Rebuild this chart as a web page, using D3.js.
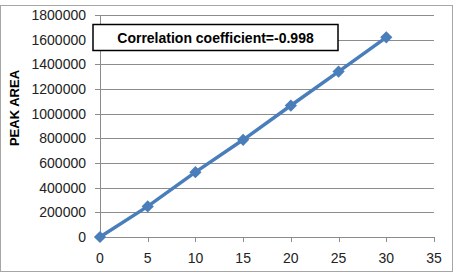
<!DOCTYPE html>
<html>
<head>
<meta charset="utf-8">
<script src="https://cdn.jsdelivr.net/npm/d3@7"></script>
<style>
  body { margin: 0; background: #fff; }
  svg { display: block; }
</style>
</head>
<body>
<script>
// data
const concentration = [0, 5, 10, 15, 20, 25, 30];
const peakArea = [0, 248000, 526000, 788000, 1066000, 1341000, 1619000];
const xTicks = [0, 5, 10, 15, 20, 25, 30, 35];
const yTicks = [0, 200000, 400000, 600000, 800000, 1000000, 1200000, 1400000, 1600000, 1800000];
const yLabel = "PEAK AREA";
const note = "Correlation coefficient=-0.998";

const width = 459, height = 278;
const font = "'Liberation Sans', Arial, sans-serif";

const svg = d3.select("body").append("svg")
  .attr("width", width)
  .attr("height", height);

// outer frame
svg.append("rect")
  .attr("x", 0.5).attr("y", 5.5)
  .attr("width", 452).attr("height", 266)
  .attr("fill", "#fff")
  .attr("stroke", "#a6a6a6");

// scales
const x = d3.scaleLinear().domain([0, 35]).range([100, 434]);
const y = d3.scaleLinear().domain([0, 1800000]).range([237, 15]);

// gridlines
svg.append("g").selectAll("line")
  .data(yTicks)
  .join("line")
  .attr("x1", 95).attr("x2", x(35))
  .attr("y1", d => Math.round(y(d)) + 0.5)
  .attr("y2", d => Math.round(y(d)) + 0.5)
  .attr("stroke", "#8c8c8c");

// y axis line
svg.append("line")
  .attr("x1", x(0) + 0.5).attr("x2", x(0) + 0.5)
  .attr("y1", y(1800000)).attr("y2", y(0))
  .attr("stroke", "#8c8c8c");

// x ticks
svg.append("g").selectAll("line")
  .data(xTicks)
  .join("line")
  .attr("x1", d => Math.round(x(d)) + 0.5)
  .attr("x2", d => Math.round(x(d)) + 0.5)
  .attr("y1", y(0)).attr("y2", y(0) + 5)
  .attr("stroke", "#8c8c8c");

// tick labels
svg.append("g").selectAll("text")
  .data(yTicks)
  .join("text")
  .attr("x", 86)
  .attr("y", d => y(d))
  .attr("dy", "0.35em")
  .attr("text-anchor", "end")
  .attr("font-family", font)
  .attr("font-size", 14)
  .attr("fill", "#222")
  .text(d => d);

svg.append("g").selectAll("text")
  .data(xTicks)
  .join("text")
  .attr("x", d => x(d))
  .attr("y", 258)
  .attr("dy", "0.35em")
  .attr("text-anchor", "middle")
  .attr("font-family", font)
  .attr("font-size", 14)
  .attr("fill", "#222")
  .text(d => d);

// y axis title
svg.append("text")
  .attr("transform", "translate(19,108) rotate(-90)")
  .attr("text-anchor", "middle")
  .attr("font-family", font)
  .attr("font-size", 13)
  .attr("font-weight", "bold")
  .attr("fill", "#000")
  .text(yLabel);

// series
const pts = concentration.map((c, i) => [c, peakArea[i]]);
const blue = "#4a7ebb";

svg.append("path")
  .datum(pts)
  .attr("fill", "none")
  .attr("stroke", blue)
  .attr("stroke-width", 3.5)
  .attr("d", d3.line().x(d => x(d[0])).y(d => y(d[1])));

svg.append("g").selectAll("path")
  .data(pts)
  .join("path")
  .attr("transform", d => `translate(${x(d[0])},${y(d[1])})`)
  .attr("d", d3.symbol(d3.symbolDiamond2, 95)())
  .attr("fill", blue);

// text box
svg.append("rect")
  .attr("x", 93).attr("y", 24.5)
  .attr("width", 245).attr("height", 26)
  .attr("fill", "#fff")
  .attr("stroke", "#000")
  .attr("stroke-width", 1.5);

svg.append("text")
  .attr("x", 215.5).attr("y", 38)
  .attr("dy", "0.35em")
  .attr("text-anchor", "middle")
  .attr("font-family", font)
  .attr("font-size", 14)
  .attr("font-weight", "bold")
  .attr("fill", "#000")
  .text(note);
</script>
</body>
</html>
